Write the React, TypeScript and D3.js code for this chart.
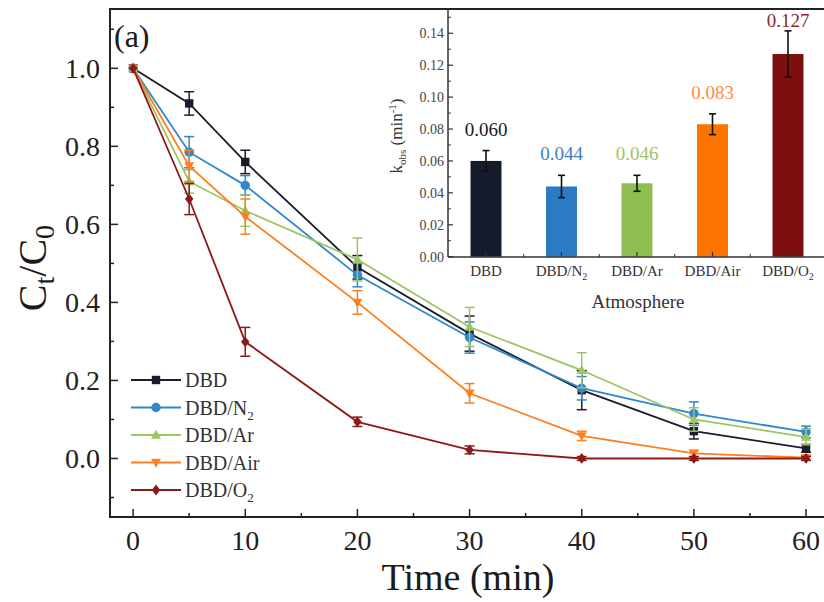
import React from "react";
import * as d3 from "d3";

// ---------- main chart data ----------
const times = [0, 5, 10, 20, 30, 40, 50, 60];
const seriesNames = ["DBD", "DBD/N", "DBD/Ar", "DBD/Air", "DBD/O"];
const seriesSubs = ["", "2", "", "", "2"];
const dbd = [1.0, 0.91, 0.76, 0.49, 0.32, 0.175, 0.07, 0.026];
const dbdErr = [0, 0.03, 0.03, 0.03, 0.045, 0.05, 0.02, 0.01];
const n2 = [1.0, 0.785, 0.7, 0.47, 0.31, 0.18, 0.115, 0.068];
const n2Err = [0, 0.04, 0.025, 0.03, 0.04, 0.03, 0.03, 0.015];
const ar = [1.0, 0.71, 0.635, 0.51, 0.337, 0.226, 0.1, 0.055];
const arErr = [0, 0.03, 0.04, 0.055, 0.05, 0.045, 0.03, 0.02];
const air = [1.0, 0.75, 0.62, 0.4, 0.167, 0.058, 0.013, 0.002];
const airErr = [0, 0.04, 0.045, 0.03, 0.025, 0.012, 0.008, 0.005];
const o2 = [1.0, 0.665, 0.299, 0.094, 0.022, 0.0, 0.0, 0.0];
const o2Err = [0, 0.04, 0.037, 0.012, 0.01, 0.005, 0.005, 0.005];
const xTicks = [0, 10, 20, 30, 40, 50, 60];
const yTicks = [0, 0.2, 0.4, 0.6, 0.8, 1.0];

// ---------- inset data ----------
const cats = ["DBD", "DBD/N", "DBD/Ar", "DBD/Air", "DBD/O"];
const catSubs = ["", "2", "", "", "2"];
const kobs = [0.06, 0.044, 0.046, 0.083, 0.127];
const kErr = [0.0065, 0.007, 0.005, 0.0065, 0.0145];
const insetTicks = [0, 0.02, 0.04, 0.06, 0.08, 0.1, 0.12, 0.14];

const lineColors = ["#1c1c2e", "#2f87cc", "#9cc563", "#ff7f1e", "#8c1a1a"];
const barColors = ["#171c2c", "#2b7bc4", "#8fbe50", "#ff7400", "#7d0f0f"];
const labelColors = ["#1a1a1a", "#3b7fc4", "#a0c463", "#ff8a4a", "#8a2a2a"];
const markerTypes = ["square", "circle", "tri", "triDown", "diamond"];

const FONT = "'Liberation Serif', 'Times New Roman', serif";

function Marker({ type, cx, cy, color }: { type: string; cx: number; cy: number; color: string }) {
  const s = 4.2;
  if (type === "square") return <rect x={cx - s} y={cy - s} width={2 * s} height={2 * s} fill={color} />;
  if (type === "circle") return <circle cx={cx} cy={cy} r={s + 0.5} fill={color} />;
  if (type === "tri")
    return <path d={`M${cx},${cy - s - 1}L${cx + s + 0.8},${cy + s - 0.5}L${cx - s - 0.8},${cy + s - 0.5}Z`} fill={color} />;
  if (type === "triDown")
    return <path d={`M${cx},${cy + s + 1}L${cx + s + 0.8},${cy - s + 0.5}L${cx - s - 0.8},${cy - s + 0.5}Z`} fill={color} />;
  return <path d={`M${cx},${cy - s - 1.2}L${cx + s},${cy}L${cx},${cy + s + 1.2}L${cx - s},${cy}Z`} fill={color} />;
}

export default function App() {
  const W = 824, H = 602;
  const x = d3.scaleLinear().domain([-2.06, 61.78]).range([110, 826]);
  const y = d3.scaleLinear().domain([-0.15, 1.152]).range([517, 9]);
  const series = [
    { v: dbd, e: dbdErr },
    { v: n2, e: n2Err },
    { v: ar, e: arErr },
    { v: air, e: airErr },
    { v: o2, e: o2Err },
  ];
  const line = d3
    .line<number>()
    .x((_, i) => x(times[i]))
    .y((d) => y(d));

  const xMinor = d3.range(5, 60, 10);
  const yMinor = d3.range(-0.1, 1.15, 0.2);

  // inset scales
  const xi = d3.scaleBand<string>().domain(cats).range([448.25, 825.75]).paddingInner(0.59).paddingOuter(0.295);
  const yi = d3.scaleLinear().domain([0, 0.1552]).range([256.7, 9]);
  const insetMinor = d3.range(0.01, 0.155, 0.02);

  const legendX = 131, legendY0 = 380, legendDy = 27.5;

  return (
    <div style={{ position: "fixed", left: 0, top: 0 }}>
      <svg width={W} height={H} style={{ display: "block", background: "#fff" }} fontFamily={FONT}>
        <rect x={0} y={0} width={W} height={H} fill="#fff" />
        {/* frame */}
        <rect x={110} y={9} width={716} height={508} fill="none" stroke="#222" strokeWidth={2} />

        {/* main x ticks */}
        {xTicks.map((t) => (
          <g key={"xt" + t}>
            <line x1={x(t)} x2={x(t)} y1={517} y2={509} stroke="#222" strokeWidth={1.5} />
            <text x={x(t)} y={550} textAnchor="middle" fontSize={28} fill="#222">
              {t}
            </text>
          </g>
        ))}
        {xMinor.map((t) => (
          <line key={"xm" + t} x1={x(t)} x2={x(t)} y1={517} y2={513} stroke="#222" strokeWidth={1.5} />
        ))}
        {/* main y ticks */}
        {yTicks.map((t) => (
          <g key={"yt" + t}>
            <line x1={110} x2={118} y1={y(t)} y2={y(t)} stroke="#222" strokeWidth={1.5} />
            <text x={100} y={y(t)} dy="0.35em" textAnchor="end" fontSize={28} fill="#222">
              {t.toFixed(1)}
            </text>
          </g>
        ))}
        {yMinor.map((t) => (
          <line key={"ym" + t} x1={110} x2={114} y1={y(t)} y2={y(t)} stroke="#222" strokeWidth={1.5} />
        ))}

        {/* axis titles */}
        <text x={468} y={590} textAnchor="middle" fontSize={38} fill="#1a1a1a">
          Time (min)
        </text>
        <text transform="translate(46,268) rotate(-90)" textAnchor="middle" fontSize={40} fill="#1a1a1a">
          C<tspan dy={8} fontSize={28}>t</tspan>
          <tspan dy={-8}>/C</tspan>
          <tspan dy={8} fontSize={28}>0</tspan>
        </text>
        <text x={114} y={47} fontSize={32} fill="#1a1a1a">
          (a)
        </text>

        {/* inset */}
        <g>
          {cats.map((c, i) => (
            <rect
              key={"bar" + c}
              x={xi(c)!}
              y={yi(kobs[i])}
              width={xi.bandwidth()}
              height={yi(0) - yi(kobs[i])}
              fill={barColors[i]}
            />
          ))}
          {cats.map((c, i) => {
            const cx = xi(c)! + xi.bandwidth() / 2;
            const t = yi(kobs[i] + kErr[i]);
            const b = yi(kobs[i] - kErr[i]);
            return (
              <g key={"ebar" + c} stroke="#111" strokeWidth={1.6}>
                <line x1={cx} x2={cx} y1={t} y2={b} />
                <line x1={cx - 3.5} x2={cx + 3.5} y1={t} y2={t} />
                <line x1={cx - 3.5} x2={cx + 3.5} y1={b} y2={b} />
              </g>
            );
          })}
          {cats.map((c, i) => {
            const cx = xi(c)! + xi.bandwidth() / 2;
            const by = Math.max(yi(kobs[i] + kErr[i]) - 15, 27);
            return (
              <text key={"vl" + c} x={cx} y={by} textAnchor="middle" fontSize={19} fill={labelColors[i]}>
                {kobs[i].toFixed(3)}
              </text>
            );
          })}
          {/* inset axes */}
          <line x1={448} x2={448} y1={9} y2={257} stroke="#333" strokeWidth={1.5} />
          <line x1={448} x2={826} y1={257} y2={257} stroke="#333" strokeWidth={1.5} />
          {insetTicks.map((t) => (
            <g key={"it" + t}>
              <line x1={448} x2={453} y1={yi(t)} y2={yi(t)} stroke="#333" strokeWidth={1.2} />
              <text x={444} y={yi(t)} dy="0.35em" textAnchor="end" fontSize={14} fill="#444">
                {t.toFixed(2)}
              </text>
            </g>
          ))}
          {insetMinor.map((t) => (
            <line key={"im" + t} x1={448} x2={451} y1={yi(t)} y2={yi(t)} stroke="#333" strokeWidth={1} />
          ))}
          {cats.map((c, i) => {
            const cx = xi(c)! + xi.bandwidth() / 2;
            const bx = xi(c)! + xi.step() - (xi.step() - xi.bandwidth()) / 2;
            return (
              <g key={"ixt" + c}>
                <line x1={cx} x2={cx} y1={257} y2={252} stroke="#333" strokeWidth={1.2} />
                {i < cats.length - 1 && (
                  <line x1={bx} x2={bx} y1={257} y2={254} stroke="#333" strokeWidth={1} />
                )}
                <text x={cx} y={276} textAnchor="middle" fontSize={15} fill="#333">
                  {c}
                  {catSubs[i] && (
                    <tspan dy={4} fontSize={10}>
                      {catSubs[i]}
                    </tspan>
                  )}
                </text>
              </g>
            );
          })}
          <text x={638} y={308} textAnchor="middle" fontSize={19} fill="#333">
            Atmosphere
          </text>
          <text transform="translate(402,136) rotate(-90)" textAnchor="middle" fontSize={17} fill="#333">
            k<tspan dy={4} fontSize={11}>obs</tspan>
            <tspan dy={-4}> (min</tspan>
            <tspan dy={-6} fontSize={11}>-1</tspan>
            <tspan dy={6}>)</tspan>
          </text>
        </g>

        {/* series */}
        {series.map((s, si) => (
          <g key={"s" + si}>
            <path d={line(s.v)!} fill="none" stroke={lineColors[si]} strokeWidth={1.8} />
            {s.v.map((v, i) =>
              s.e[i] > 0 ? (
                <g key={"e" + i} stroke={lineColors[si]} strokeWidth={1.5}>
                  <line x1={x(times[i])} x2={x(times[i])} y1={y(v + s.e[i])} y2={y(v - s.e[i])} />
                  <line x1={x(times[i]) - 5} x2={x(times[i]) + 5} y1={y(v + s.e[i])} y2={y(v + s.e[i])} />
                  <line x1={x(times[i]) - 5} x2={x(times[i]) + 5} y1={y(v - s.e[i])} y2={y(v - s.e[i])} />
                </g>
              ) : null
            )}
            {s.v.map((v, i) => (
              <Marker key={"m" + i} type={markerTypes[si]} cx={x(times[i])} cy={y(v)} color={lineColors[si]} />
            ))}
          </g>
        ))}

        {/* legend */}
        {seriesNames.map((n, i) => {
          const ly = legendY0 + i * legendDy;
          return (
            <g key={"lg" + n}>
              <line x1={legendX} x2={legendX + 50} y1={ly} y2={ly} stroke={lineColors[i]} strokeWidth={1.8} />
              <Marker type={markerTypes[i]} cx={legendX + 25} cy={ly} color={lineColors[i]} />
              <text x={legendX + 54} y={ly} dy="0.35em" fontSize={20} fill="#333">
                {n}
                {seriesSubs[i] && (
                  <tspan dy={5} fontSize={13}>
                    {seriesSubs[i]}
                  </tspan>
                )}
              </text>
            </g>
          );
        })}
      </svg>
    </div>
  );
}
